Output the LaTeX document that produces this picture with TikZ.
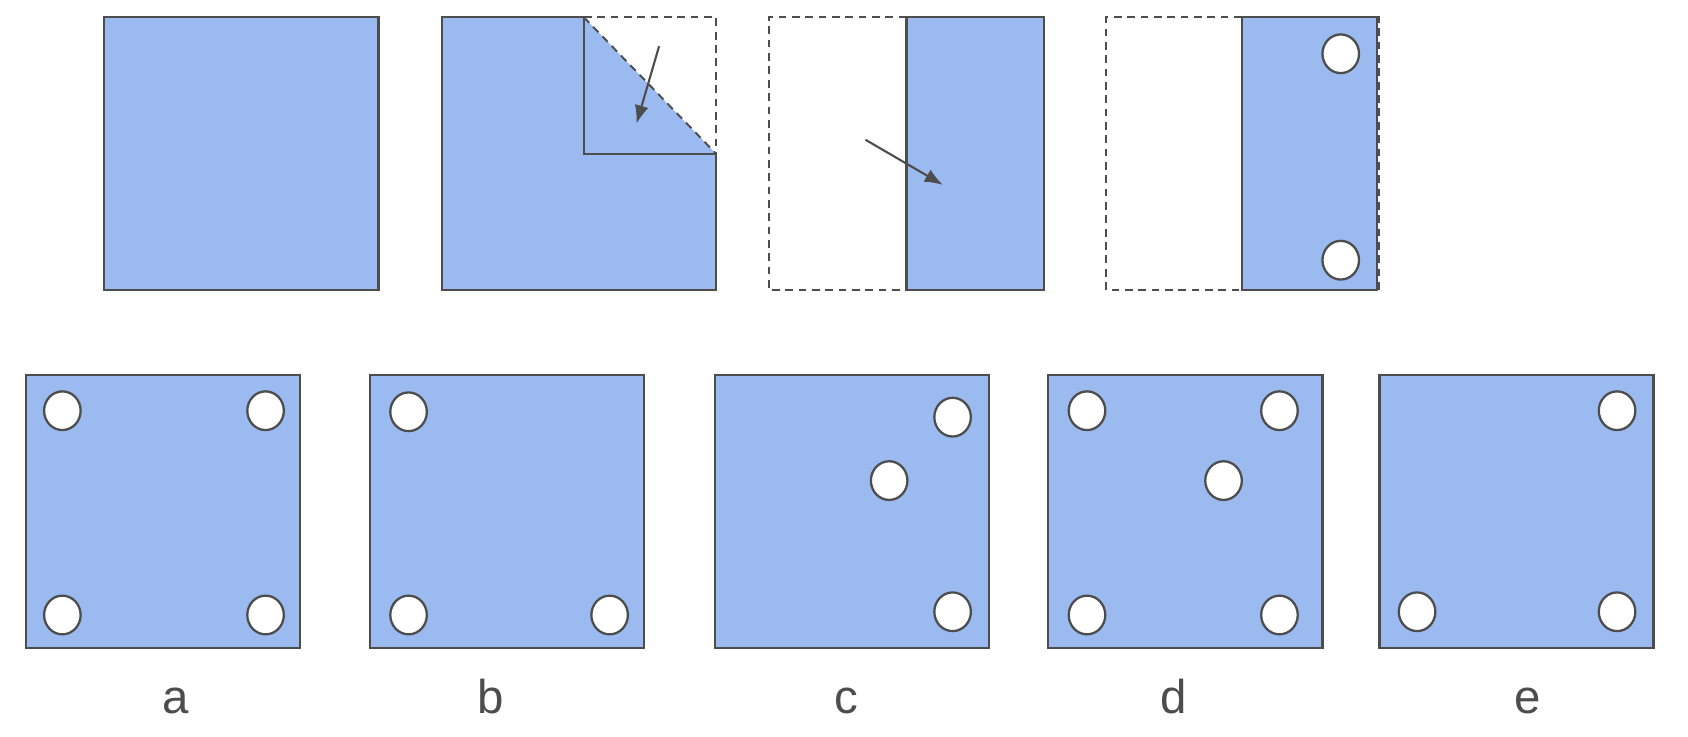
\documentclass[tikz,border=0pt]{standalone}
\usepackage{fontspec}
\setmainfont{Liberation Sans}
\usetikzlibrary{arrows.meta}
\definecolor{paper}{RGB}{155,187,240}
\definecolor{ink}{RGB}{77,77,77}
\tikzset{
  sheet/.style={draw=ink, line width=0.65pt, fill=paper},
  fold/.style={draw=ink, line width=0.55pt, dash pattern=on 2.2pt off 1.6pt},
  hole/.style={draw=ink, line width=0.65pt, fill=white},
  motion/.style={draw=ink, line width=0.6pt, -{Latex[length=5.2pt,width=4pt]}},
  lbl/.style={text=ink, font=\fontsize{13.5}{14}\selectfont, inner sep=0pt}
}
\newcommand{\holeat}[2]{\draw[hole] (#1,#2) ellipse [x radius=17, y radius=18];}
\begin{document}
\begin{tikzpicture}[x=0.010752cm,y=-0.010752cm]
\useasboundingbox (0,0) rectangle (1570,685.4);
% top row, figure 1
\draw[sheet] (97,16) rectangle (352,270);
% figure 2
\fill[paper] (411,16) -- (543,16) -- (666,143) -- (666,270) -- (411,270) -- cycle;
\draw[ink, line width=0.65pt] (543,16) -- (411,16) -- (411,270) -- (666,270) -- (666,143);
\draw[fold] (543,16) -- (666,16) -- (666,143);
\draw[ink, line width=0.65pt] (543,16) -- (543,143) -- (666,143);
\draw[fold] (543,16) -- (666,143);
\coordinate (a2s) at (613,43);
\coordinate (a2e) at (592,115);
\draw[motion] (a2s) -- (a2e);
% figure 3
\draw[fold] (843,16) -- (715,16) -- (715,270) -- (843,270);
\draw[sheet] (843,16) rectangle (971,270);
\coordinate (a3s) at (805,130);
\coordinate (a3e) at (877,172);
\draw[motion] (a3s) -- (a3e);
% figure 4
\draw[fold] (1155,16) -- (1029,16) -- (1029,270) -- (1155,270);
\draw[sheet] (1155,16) rectangle (1281,270);
\draw[fold] (1281,16) -- (1283,16) -- (1283,270) -- (1281,270);
\holeat{1247}{50}
\holeat{1247}{242}
% bottom row
\draw[sheet] (24,349) rectangle (279,603);
\holeat{58}{382} \holeat{247}{382} \holeat{58}{572} \holeat{247}{572}
\draw[sheet] (344,349) rectangle (599,603);
\holeat{380}{383} \holeat{380}{572} \holeat{567}{572}
\draw[sheet] (665,349) rectangle (920,603);
\holeat{886}{388} \holeat{827}{447} \holeat{886}{569}
\draw[sheet] (975,349) rectangle (1230,603);
\holeat{1011}{382} \holeat{1190}{382} \holeat{1138}{447} \holeat{1011}{572} \holeat{1190}{572}
\draw[sheet] (1283,349) rectangle (1538,603);
\holeat{1504}{382} \holeat{1318}{569} \holeat{1504}{569}
% labels
\node[lbl, anchor=base] (la) at (163,664) {a};
\node[lbl, anchor=base] (lb) at (456,664) {b};
\node[lbl, anchor=base] (lc) at (787,664) {c};
\node[lbl, anchor=base] (ld) at (1092,664) {d};
\node[lbl, anchor=base] (le) at (1421,664) {e};
\end{tikzpicture}
\end{document}
